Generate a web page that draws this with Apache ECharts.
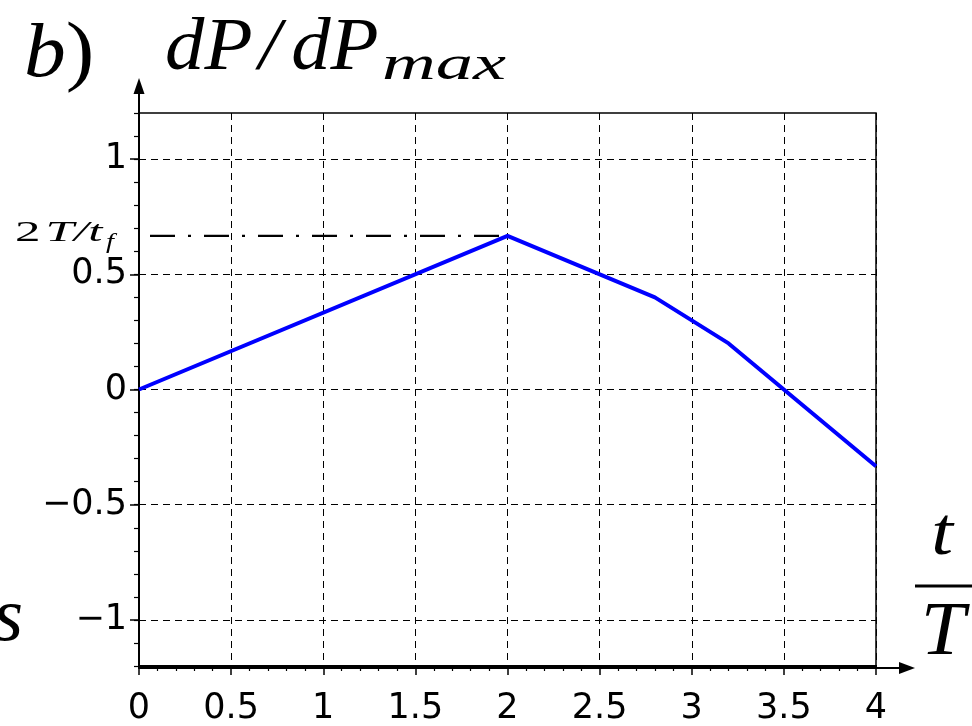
<!DOCTYPE html>
<html><head><meta charset="utf-8">
<script src="https://cdn.jsdelivr.net/npm/echarts@6/dist/echarts.min.js"></script>
<style>html,body{margin:0;padding:0;background:#fff}#c{width:972px;height:726px}</style>
</head><body><div id="c"></div>
<script>
// ---- data ----
const tValues = [0, 2, 2.8, 3.2, 4];
const dpValues = [0, 0.6667, 0.4, 0.2, -0.3333];
const refLevel = 0.6667;
const refRange = [0, 2];
const xRange = [0, 4];
const xStep = 0.5;
const yRange = [-1.2, 1.2];
const yMinorStep = 0.1;
const yTickValues = [-1, -0.5, 0, 0.5, 1];

const lineData = tValues.map((t, i) => [t, dpValues[i]]);
const refData = refRange.map(t => [t, refLevel]);

const MATH = "'Liberation Serif', serif";
const LBL = "'DejaVu Sans', sans-serif";
const fmt = v => (Math.round(v * 100) / 100).toString().replace('-', '\u2212');

const chart = echarts.init(document.getElementById('c'), null, {renderer: 'canvas'});
const gridL = 139, gridT = 113, gridR = 96, gridB = 58;

chart.setOption({
  animation: false,
  backgroundColor: '#fff',
  grid: [
    {left: gridL, top: gridT, right: gridR, bottom: gridB, show: true, borderColor: '#000', borderWidth: 1.5, containLabel: false},
    {left: gridL, top: 86, right: 65, bottom: gridB, show: false, containLabel: false}
  ],
  xAxis: [
    {
      type: 'value', gridIndex: 0, min: xRange[0], max: xRange[1], interval: xStep,
      axisLine: {show: true, onZero: false, lineStyle: {color: '#000', width: 2}},
      axisTick: {show: true, length: 9, lineStyle: {color: '#000', width: 1.5}},
      minorTick: {show: true, splitNumber: 5, length: 5, lineStyle: {color: '#000', width: 1.2}},
      axisLabel: {show: true, margin: 25, color: '#000', fontFamily: LBL, fontSize: 35, formatter: fmt},
      splitLine: {show: true, lineStyle: {color: '#000', width: 1, type: [7, 5]}}
    },
    {
      type: 'value', gridIndex: 1, min: 0, max: 1,
      axisLine: {show: true, onZero: false, symbol: ['none', 'triangle'], symbolSize: [12, 16], lineStyle: {color: '#000', width: 2}},
      axisTick: {show: false}, axisLabel: {show: false}, splitLine: {show: false}
    }
  ],
  yAxis: [
    {
      type: 'value', gridIndex: 0, position: 'left', offset: 0,
      min: yRange[0], max: yRange[1], interval: yMinorStep,
      axisLine: {show: true, onZero: false, lineStyle: {color: '#000', width: 2}},
      axisTick: {show: true, length: 5, lineStyle: {color: '#000', width: 1.2}},
      axisLabel: {show: false}, splitLine: {show: false}
    },
    {
      type: 'value', gridIndex: 0, position: 'left', offset: 0,
      min: yRange[0], max: yRange[1],
      axisLine: {show: false, onZero: false},
      axisTick: {show: true, length: 9, customValues: yTickValues, lineStyle: {color: '#000', width: 1.5}},
      axisLabel: {show: true, margin: 12, customValues: yTickValues, color: '#000', fontFamily: LBL, fontSize: 35, formatter: fmt},
      splitLine: {show: true, lineStyle: {color: '#000', width: 1, type: [7, 5]}}
    },
    {
      type: 'value', gridIndex: 1, min: 0, max: 1,
      axisLine: {show: true, onZero: false, symbol: ['none', 'triangle'], symbolSize: [11, 16], lineStyle: {color: '#000', width: 2}},
      axisTick: {show: false}, axisLabel: {show: false}, splitLine: {show: false}
    }
  ],
  series: [
    {
      type: 'line', xAxisIndex: 0, yAxisIndex: 1, data: refData, showSymbol: false, symbol: 'none',
      lineStyle: {color: '#000', width: 2.2, type: [25, 13, 3, 13], dashOffset: 43}, z: 3
    },
    {
      type: 'line', xAxisIndex: 0, yAxisIndex: 1, data: lineData, showSymbol: false, symbol: 'none',
      lineStyle: {color: '#0000ff', width: 4}, z: 4
    }
  ],
  graphic: [
    {type: 'text', x: 24, y: 56, scaleX: 1.1, style: {text: '{i|b}{r|)}', verticalAlign: 'middle', align: 'left',
      rich: {i: {font: `italic 76px ${MATH}`, fill: '#000'}, r: {font: `78px ${MATH}`, fill: '#000'}}}},
    {type: 'text', x: 165, y: 49, scaleX: 1.05, style: {text: '{i|dP}{s|/}{i|dP}', verticalAlign: 'middle', align: 'left',
      rich: {i: {font: `italic 75px ${MATH}`, fill: '#000'}, s: {font: `italic 75px ${MATH}`, fill: '#000', padding: [0, 10, 0, 6]}}}},
    {type: 'text', x: 382, y: 66, scaleX: 1.55, style: {text: 'max', font: `italic 48px ${MATH}`, fill: '#000', verticalAlign: 'middle', align: 'left'}},
    {type: 'text', x: 15, y: 233, scaleX: 1.7, style: {text: '{r|2}{i|T/t}', verticalAlign: 'middle', align: 'left',
      rich: {r: {font: `30px ${MATH}`, fill: '#000', padding: [0, 3, 0, 0]}, i: {font: `italic 30px ${MATH}`, fill: '#000'}}}},
    {type: 'text', x: 106, y: 242, scaleX: 1.3, style: {text: 'f', font: `italic 22px ${MATH}`, fill: '#000', verticalAlign: 'middle', align: 'left'}},
    {type: 'text', x: 942, y: 536, scaleX: 1.15, style: {text: 't', font: `italic 68px ${MATH}`, fill: '#000', verticalAlign: 'middle', align: 'center'}},
    {type: 'line', shape: {x1: 915, y1: 586, x2: 972, y2: 586}, style: {stroke: '#000', lineWidth: 3}},
    {type: 'text', x: 943, y: 634, scaleX: 1.05, style: {text: 'T', font: `italic 76px ${MATH}`, fill: '#000', verticalAlign: 'middle', align: 'center'}},
    {type: 'text', x: 23, y: 620, style: {text: 's', font: `italic 76px ${MATH}`, fill: '#000', verticalAlign: 'middle', align: 'right'}}
  ]
});
</script>
</body></html>
